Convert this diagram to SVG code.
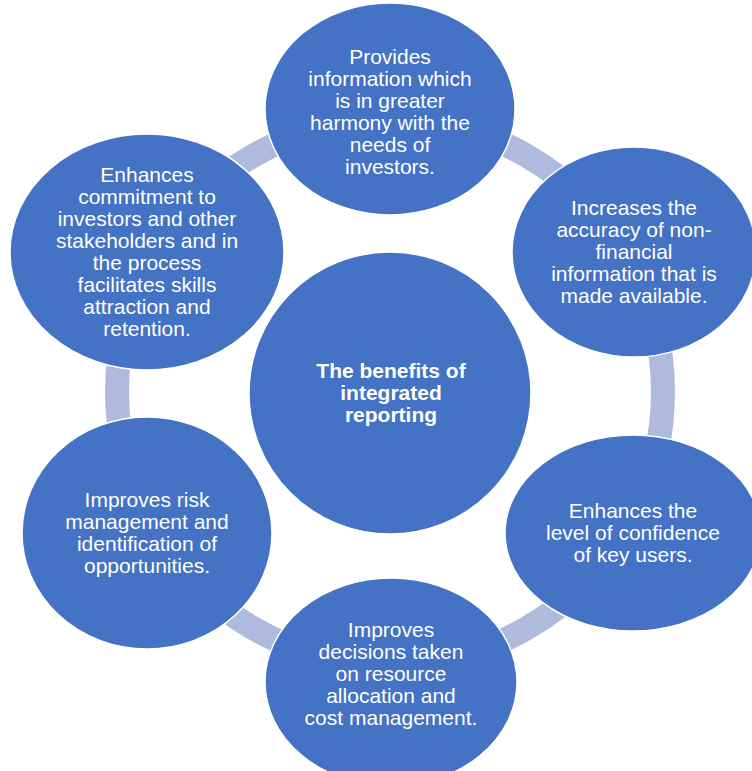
<svg xmlns="http://www.w3.org/2000/svg" width="752" height="771" viewBox="0 0 752 771">
<style>
.node{fill:#4472C4;stroke:#FFFFFF;stroke-width:1.5}
.conn{fill:none;stroke:#AFBBDD;stroke-width:24}
.t{font-family:"Liberation Sans",Arial,sans-serif;font-size:21px;fill:#FFFFFF;text-anchor:middle}
.b{font-weight:bold}
</style>
<rect width="752" height="771" fill="#FFFFFF"/>
<g id="connectors">
<path class="conn" d="M390,119 A273,273 0 0 1 626.4,255.5"/>
<path class="conn" d="M626.4,255.5 A273,273 0 0 1 626.4,528.5"/>
<path class="conn" d="M626.4,528.5 A273,273 0 0 1 390,665"/>
<path class="conn" d="M390,665 A273,273 0 0 1 153.6,528.5"/>
<path class="conn" d="M153.6,528.5 A273,273 0 0 1 153.6,255.5"/>
<path class="conn" d="M153.6,255.5 A273,273 0 0 1 390,119"/>
</g>
<g id="center">
<circle class="node" cx="390" cy="393" r="141"/>
<text class="t b" x="391" y="378">The benefits of</text>
<text class="t b" x="391" y="400">integrated</text>
<text class="t b" x="391" y="422">reporting</text>
</g>
<g id="node-top">
<ellipse class="node" cx="390" cy="109" rx="125" ry="106"/>
<text class="t" x="390" y="64">Provides</text>
<text class="t" x="390" y="86">information which</text>
<text class="t" x="390" y="108">is in greater</text>
<text class="t" x="390" y="130">harmony with the</text>
<text class="t" x="390" y="152">needs of</text>
<text class="t" x="390" y="174">investors.</text>
</g>
<g id="node-right-top">
<ellipse class="node" cx="634" cy="252" rx="122" ry="105"/>
<text class="t" x="634" y="215">Increases the</text>
<text class="t" x="634" y="237">accuracy of non-</text>
<text class="t" x="634" y="259">financial</text>
<text class="t" x="634" y="281">information that is</text>
<text class="t" x="634" y="303">made available.</text>
</g>
<g id="node-right-bottom">
<ellipse class="node" cx="633" cy="533" rx="128" ry="98"/>
<text class="t" x="633" y="518">Enhances the</text>
<text class="t" x="633" y="540">level of confidence</text>
<text class="t" x="633" y="562">of key users.</text>
</g>
<g id="node-bottom">
<ellipse class="node" cx="391" cy="682" rx="126" ry="104"/>
<text class="t" x="391" y="637">Improves</text>
<text class="t" x="391" y="659">decisions taken</text>
<text class="t" x="391" y="681">on resource</text>
<text class="t" x="391" y="703">allocation and</text>
<text class="t" x="391" y="725">cost management.</text>
</g>
<g id="node-left-bottom">
<ellipse class="node" cx="147" cy="533" rx="125" ry="116"/>
<text class="t" x="147" y="507">Improves risk</text>
<text class="t" x="147" y="529">management and</text>
<text class="t" x="147" y="551">identification of</text>
<text class="t" x="147" y="573">opportunities.</text>
</g>
<g id="node-left-top">
<ellipse class="node" cx="147" cy="252" rx="137" ry="118"/>
<text class="t" x="147" y="182">Enhances</text>
<text class="t" x="147" y="204">commitment to</text>
<text class="t" x="147" y="226">investors and other</text>
<text class="t" x="147" y="248">stakeholders and in</text>
<text class="t" x="147" y="270">the process</text>
<text class="t" x="147" y="292">facilitates skills</text>
<text class="t" x="147" y="314">attraction and</text>
<text class="t" x="147" y="336">retention.</text>
</g>
</svg>
